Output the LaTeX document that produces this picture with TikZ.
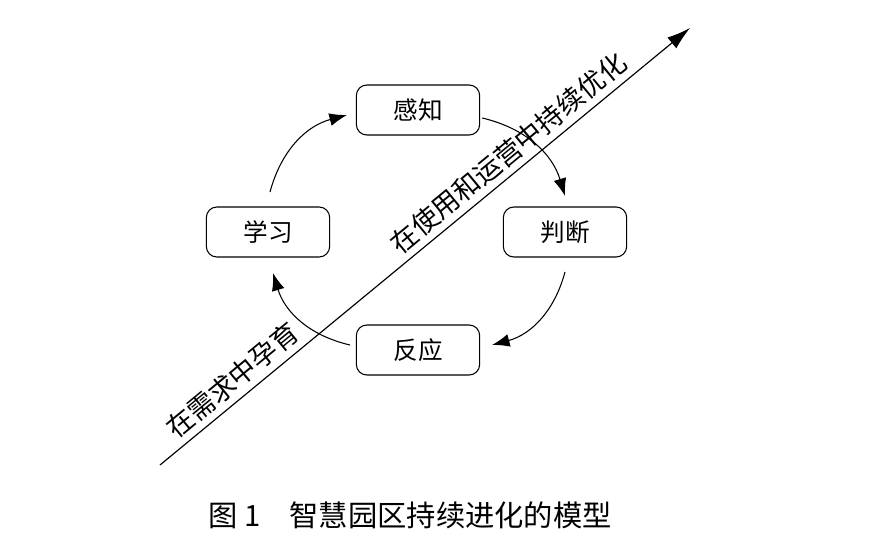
\documentclass[tikz,border=0pt]{standalone}
\usepackage{fontspec}
\setmainfont{Noto Sans CJK SC}
\usetikzlibrary{arrows.meta}
\tikzset{
  stage/.style={draw, rounded corners=9pt, line width=0.9pt, minimum width=3.7cm, minimum height=1.5cm, font=\fontsize{21}{25}\selectfont},
  cyc/.style={line width=0.9pt, -{Latex[length=15pt,width=11pt]}}
}
\begin{document}
\begin{tikzpicture}[x=0.03cm, y=-0.03cm]
	\useasboundingbox (0,0) rectangle (896,539);
	\draw (418,110) node(gz) [stage] {感知};
	\draw (565,232) node(pd) [stage] {判断};
	\draw (418,350) node(fy) [stage] {反应};
	\draw (268,232) node(xx) [stage] {学习};
	\coordinate (s) at (160,465);
	\coordinate (e) at (690,28);
	\path[draw, line width=1pt, -{Latex[length=20pt,width=12pt]}] (s) -- (e)
		node[pos=0.16, sloped, above=2pt, font=\fontsize{23}{27}\selectfont] {在需求中孕育}
		node[pos=0.68, sloped, above=2pt, font=\fontsize{23}{27}\selectfont] {在使用和运营中持续优化};
	\path[draw, cyc] (gz.east) ++(2,8) to[bend left=30] (565,196);
	\path[draw, cyc] (565,272) to[bend left=30] (492,345);
	\path[draw, cyc] (350,345) to[bend left=30] (273,273);
	\path[draw, cyc] (270,192) to[bend left=30] (347,115);
	\node[font=\fontsize{25}{30}\selectfont] (cap) at (410,515) {图 1\quad 智慧园区持续进化的模型};
\end{tikzpicture}
\end{document}
